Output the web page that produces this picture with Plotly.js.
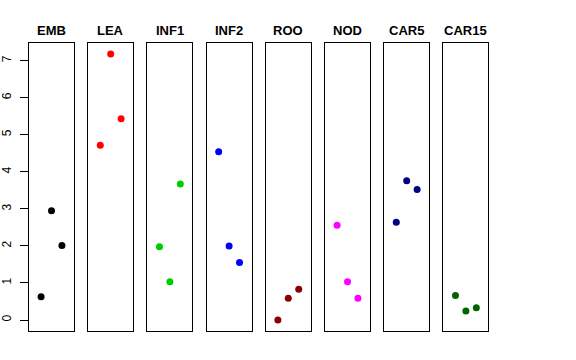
<!DOCTYPE html>
<html>
<head>
<meta charset="utf-8">
<script src="https://cdn.plot.ly/plotly-3.0.1.min.js"></script>
<style>html,body{margin:0;padding:0;background:#fff;}</style>
</head>
<body>
<div id="chart" style="width:576px;height:360px;"></div>
<script>
const categories = ["EMB", "LEA", "INF1", "INF2", "ROO", "NOD", "CAR5", "CAR15"];
const positions = [1, 2, 3];
const EMB = [0.63, 2.95, 2.01];
const LEA = [4.72, 7.18, 5.43];
const INF1 = [1.98, 1.03, 3.67];
const INF2 = [4.54, 2.00, 1.55];
const ROO = [0.00, 0.59, 0.83];
const NOD = [2.56, 1.03, 0.59];
const CAR5 = [2.64, 3.76, 3.52];
const CAR15 = [0.66, 0.24, 0.33];
const seriesValues = [EMB, LEA, INF1, INF2, ROO, NOD, CAR5, CAR15];
const colors = ["#000000", "#FF0000", "#00CD00", "#0000FF", "#8B0000", "#FF00FF", "#000080", "#006400"];
const yTicks = [0, 1, 2, 3, 4, 5, 6, 7];

const W = 576, H = 360;
const left0 = 29, step = 59.2, pw = 45;
const topPx = 43.3, botPx = 331;
const yDom = [(H - botPx) / H, (H - topPx) / H];

const traces = [];
const layout = {
  width: W, height: H,
  margin: {l: 0, r: 0, t: 0, b: 0},
  paper_bgcolor: "#ffffff", plot_bgcolor: "#ffffff",
  showlegend: false,
  font: {family: "Liberation Sans, Arial, sans-serif", color: "#000"},
  annotations: []
};

categories.forEach((cat, i) => {
  const sfx = i === 0 ? "" : String(i + 1);
  traces.push({
    type: "scatter", mode: "markers",
    x: positions, y: seriesValues[i],
    xaxis: "x" + sfx, yaxis: "y" + sfx,
    marker: {color: colors[i], size: 7},
    hoverinfo: "skip"
  });
  const l = left0 + step * i;
  layout["xaxis" + sfx] = {
    domain: [l / W, (l + pw) / W],
    range: [-0.16, 4.16],
    showgrid: false, zeroline: false,
    showticklabels: false, ticks: "",
    showline: true, mirror: true, linecolor: "#000", linewidth: 1,
    anchor: "y" + sfx, fixedrange: true
  };
  layout["yaxis" + sfx] = {
    domain: yDom,
    range: [-0.297, 7.47],
    showgrid: false, zeroline: false,
    showline: true, mirror: true, linecolor: "#000", linewidth: 1,
    anchor: "x" + sfx, fixedrange: true,
    showticklabels: i === 0,
    ticks: i === 0 ? "outside" : "",
    ticklen: 8, tickcolor: "#000", tickwidth: 1,
    tickvals: yTicks, ticktext: yTicks.map(String),
    tickangle: -90,
    ticklabelstandoff: 4,
    tickfont: {size: 12, color: "#000"}
  };
  layout.annotations.push({
    text: "<b>" + cat + "</b>",
    xref: "paper", yref: "paper",
    x: (l + pw / 2) / W, y: (H - 30) / H,
    xanchor: "center", yanchor: "middle",
    showarrow: false,
    font: {size: 13, color: "#000", family: "Liberation Sans, Arial, sans-serif"}
  });
});

Plotly.newPlot("chart", traces, layout, {staticPlot: true, displayModeBar: false});
</script>
</body>
</html>
